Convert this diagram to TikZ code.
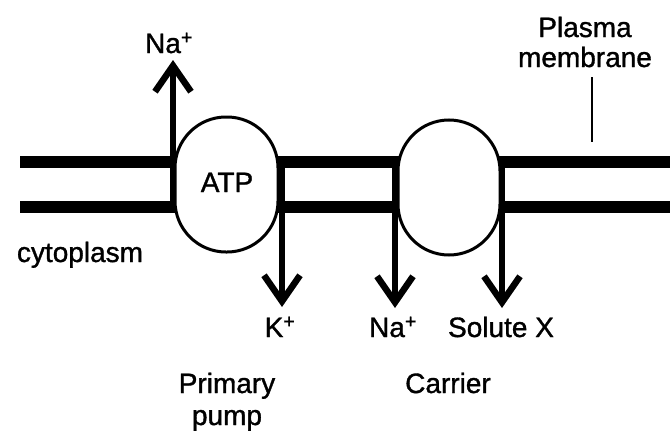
\documentclass[tikz,border=0pt]{standalone}
\usepackage{fontspec}
\setmainfont{Liberation Sans}
\newfontfamily\lblfont[FakeBold=1.2]{Liberation Sans}
\usetikzlibrary{arrows.meta}
\begin{document}
\begin{tikzpicture}[x=1pt,y=-1pt,
  membrane/.style={line width=12pt},
  protein/.style={draw,line width=3pt,fill=white,rectangle,rounded corners=51pt,inner sep=0pt},
  flux/.style={line width=6pt,-{Straight Barb[length=26pt,width=36pt,line width=6.5pt]}},
  lbl/.style={anchor=base,inner sep=0pt,font=\lblfont\fontsize{28}{32}\selectfont}
]
\useasboundingbox (0,0) rectangle (670,431);
% membrane
\coordinate (mTL) at (20,162);
\coordinate (mTR) at (672,162);
\coordinate (mBL) at (20,207);
\coordinate (mBR) at (672,207);
\draw[membrane] (mTL) -- (mTR);
\draw[membrane] (mBL) -- (mBR);
% proteins
\node[protein,minimum width=103pt,minimum height=135pt] (pump) at (226.5,184.5) {};
\node[protein,minimum width=102pt,minimum height=135pt] (carrier) at (449,187.5) {};
% arrow coordinates
\coordinate (a1s) at (173,213);
\coordinate (a1e) at (173,60);
\coordinate (a2s) at (282,156);
\coordinate (a2e) at (282,307);
\coordinate (a3s) at (395,156);
\coordinate (a3e) at (395,308);
\coordinate (a4s) at (502,156);
\coordinate (a4e) at (502,308);
\draw[flux] (a1s) -- (a1e);
\draw[flux] (a2s) -- (a2e);
\draw[flux] (a3s) -- (a3e);
\draw[flux] (a4s) -- (a4e);
% labels
\node[lbl] (naout) at (169,53) {Na\textsuperscript{+}};
\node[lbl] (atp) at (227,192) {ATP};
\node[lbl] (kin) at (280,337) {K\textsuperscript{+}};
\node[lbl] (nain) at (393,337) {Na\textsuperscript{+}};
\node[lbl] (solute) at (501,337) {Solute X};
\node[lbl] (plasma) at (585,37) {Plasma};
\node[lbl] (membr) at (585,67) {membrane};
\node[lbl] (cyto) at (80,262) {cytoplasm};
\node[lbl] (primary) at (227,393) {Primary};
\node[lbl] (pumplbl) at (227,425) {pump};
\node[lbl] (carrierlbl) at (448,393) {Carrier};
% pointer line
\coordinate (tickTop) at (592,77);
\coordinate (tickBot) at (592,142);
\draw[line width=2.5pt] (tickTop) -- (tickBot);
\end{tikzpicture}
\end{document}
